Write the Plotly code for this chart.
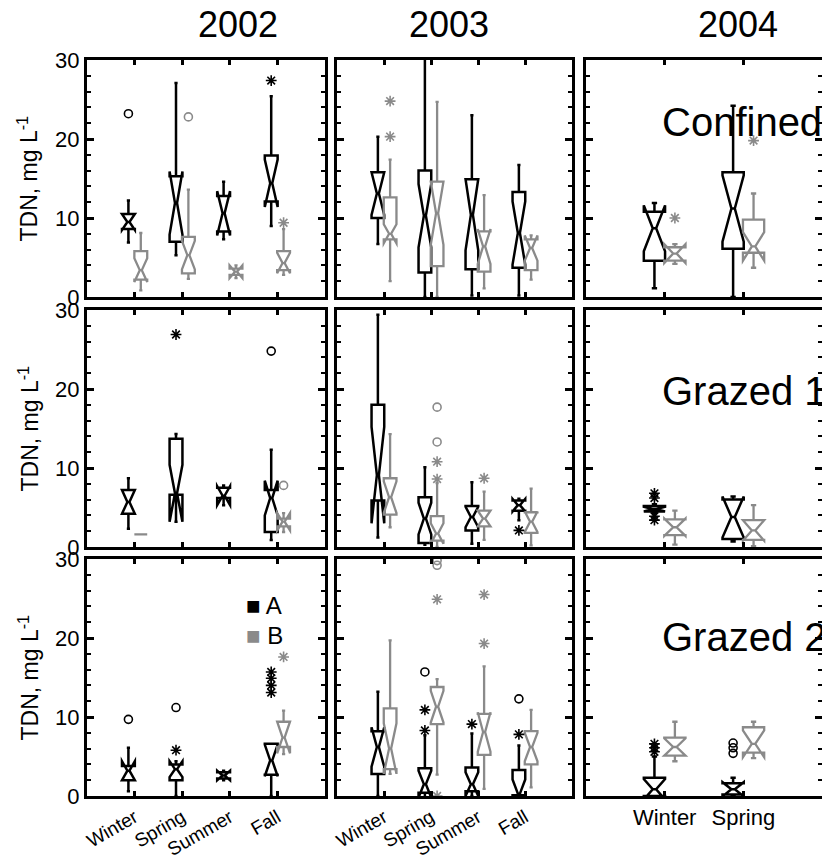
import plotly.graph_objects as go

# ---------------- data ----------------
# each box: (lower whisker, q1, median, q3, upper whisker, notch half-span); None = no box
SEASONS_0203 = ["Winter", "Spring", "Summer", "Fall"]
SEASONS_04 = ["Winter", "Spring"]
YEARS = ["2002", "2003", "2004"]
SITES = ["Confined", "Grazed 1", "Grazed 2"]
GROUPS = ["A", "B"]
Y_TICKS = [0, 10, 20, 30]

confined_2002_A = [(6.9, 8.6, 9.5, 10.5, 12.2, 1.0), (5.3, 7.0, 11.9, 15.3, 27.1, 4.0),
                   (7.3, 8.3, 10.6, 12.8, 14.6, 2.8), (9.0, 12.1, 14.4, 17.9, 25.4, 3.0)]
confined_2002_B = [(0.85, 2.2, 3.4, 5.8, 8.1, 1.5), (2.3, 3.0, 5.3, 7.6, 13.6, 1.8),
                   (2.5, 2.8, 3.2, 3.6, 3.9, 0.8), (2.8, 3.4, 4.3, 5.8, 8.6, 1.3)]
confined_2003_A = [(6.7, 10.0, 13.1, 15.8, 20.3, 2.7), (0.0, 3.1, 10.3, 16.0, 31.0, 4.0),
                   (0.2, 3.5, 10.4, 14.9, 23.0, 4.5), (0.2, 3.7, 8.1, 13.3, 16.7, 4.0)]
confined_2003_B = [(2.0, 7.3, 8.0, 12.6, 17.4, 1.2), (0.0, 3.9, 10.6, 14.6, 24.7, 4.0),
                   (1.1, 3.2, 6.4, 8.3, 12.9, 2.2), (2.2, 3.4, 6.2, 7.3, 7.7, 1.6)]
confined_2004_A = [(1.1, 4.6, 8.7, 10.8, 11.9, 2.9), (0.0, 6.1, 11.2, 15.8, 24.2, 4.2)]
confined_2004_B = [(4.2, 4.6, 5.5, 6.3, 6.7, 1.2), (3.7, 5.6, 6.4, 9.8, 13.1, 1.8)]

grazed1_2002_A = [(2.3, 4.2, 5.7, 7.2, 8.7, 1.5), (3.3, 6.6, 6.8, 13.7, 14.3, 3.6),
                  (5.9, 6.2, 6.5, 7.5, 7.8, 1.2), (0.9, 1.9, 6.2, 7.2, 12.3, 2.2)]
grazed1_2002_B = [(1.6, 1.6, 1.6, 1.6, 1.6, 0.0), None, None, (1.9, 2.6, 3.2, 3.6, 3.9, 1.1)]
grazed1_2003_A = [(1.2, 5.9, 9.1, 18.0, 29.4, 6.1), (0.3, 0.5, 3.6, 6.3, 10.1, 2.0),
                  (0.4, 2.1, 3.8, 5.2, 8.2, 1.3), (3.4, 4.6, 5.3, 5.9, 6.0, 0.8)]
grazed1_2003_B = [(2.5, 4.1, 6.3, 8.7, 14.3, 2.0), (0.0, 0.8, 1.7, 3.9, 8.1, 1.3),
                  (0.9, 2.6, 3.6, 4.6, 7.0, 1.0), (0.2, 1.8, 3.2, 4.4, 7.4, 1.3)]
grazed1_2004_A = [(4.3, 4.5, 4.8, 5.2, 5.4, 0.3), (0.7, 1.0, 3.8, 6.0, 6.3, 2.6)]
grazed1_2004_B = [(0.3, 1.5, 2.5, 3.5, 4.6, 1.1), (0.1, 0.9, 2.1, 3.4, 5.3, 1.3)]

grazed2_2002_A = [(0.6, 2.0, 3.2, 3.8, 6.1, 1.2), (0.0, 2.0, 3.4, 4.0, 4.0, 1.0),
                  (2.0, 2.2, 2.6, 3.0, 3.1, 0.6), (0.0, 2.7, 4.5, 6.6, 6.6, 2.0)]
grazed2_2002_B = [None, None, None, (5.3, 6.2, 7.4, 9.4, 10.8, 2.0)]
grazed2_2003_A = [(0.0, 2.8, 6.2, 8.2, 13.2, 2.5), (0.0, 0.4, 1.5, 3.5, 7.7, 1.7),
                  (0.0, 0.6, 1.5, 3.6, 7.9, 1.5), (0.0, 0.1, 0.3, 3.3, 6.4, 1.8)]
grazed2_2003_B = [(3.0, 3.4, 6.0, 11.1, 19.7, 3.2), (2.7, 9.1, 11.3, 13.8, 14.8, 2.0),
                  (0.9, 5.2, 8.1, 10.4, 16.4, 2.5), (1.1, 4.0, 6.2, 8.2, 10.9, 1.8)]
grazed2_2004_A = [(0.0, 0.0, 0.85, 2.3, 5.0, 1.3), (0.0, 0.2, 0.85, 1.6, 2.3, 0.9)]
grazed2_2004_B = [(4.4, 5.1, 6.2, 7.4, 9.4, 1.1), (4.8, 5.5, 6.6, 8.7, 9.4, 1.7)]

# outliers: (season, value, kind)  kind "o" = circle, "*" = asterisk
confined_2002_A_out = [("Winter", 23.2, "o"), ("Fall", 27.4, "*")]
confined_2002_B_out = [("Spring", 22.8, "o"), ("Fall", 9.4, "*")]
confined_2003_A_out = []
confined_2003_B_out = [("Winter", 24.8, "*"), ("Winter", 20.3, "*")]
confined_2004_A_out = []
confined_2004_B_out = [("Winter", 10.0, "*"), ("Spring", 19.8, "*")]
grazed1_2002_A_out = [("Spring", 26.9, "*"), ("Fall", 24.8, "o")]
grazed1_2002_B_out = [("Fall", 7.8, "o")]
grazed1_2003_A_out = [("Fall", 2.1, "*")]
grazed1_2003_B_out = [("Spring", 17.7, "o"), ("Spring", 13.3, "o"), ("Spring", 10.8, "*"),
                      ("Spring", 8.6, "*"), ("Summer", 8.7, "*")]
grazed1_2004_A_out = [("Winter", 6.8, "*"), ("Winter", 6.2, "*"), ("Winter", 3.9, "*"),
                      ("Winter", 3.4, "*")]
grazed1_2004_B_out = []
grazed2_2002_A_out = [("Winter", 9.7, "o"), ("Spring", 11.2, "o"), ("Spring", 5.8, "*"),
                      ("Fall", 15.7, "*"), ("Fall", 14.9, "*"), ("Fall", 14.0, "*"), ("Fall", 13.1, "*")]
grazed2_2002_B_out = [("Fall", 17.6, "*")]
grazed2_2003_A_out = [("Spring", 15.7, "o"), ("Spring", 10.9, "*"), ("Spring", 8.3, "*"),
                      ("Summer", 9.1, "*"), ("Fall", 12.3, "o"), ("Fall", 7.8, "*")]
grazed2_2003_B_out = [("Spring", 29.8, "o"), ("Spring", 29.2, "o"), ("Spring", 24.9, "*"),
                      ("Spring", 0.0, "*"), ("Summer", 25.5, "*"), ("Summer", 19.3, "*")]
grazed2_2004_A_out = [("Winter", 6.6, "*"), ("Winter", 6.1, "*"), ("Winter", 5.6, "*"),
                      ("Spring", 6.7, "o"), ("Spring", 6.1, "o"), ("Spring", 5.4, "o")]
grazed2_2004_B_out = []

PANELS = [
    [(confined_2002_A, confined_2002_B, confined_2002_A_out, confined_2002_B_out),
     (confined_2003_A, confined_2003_B, confined_2003_A_out, confined_2003_B_out),
     (confined_2004_A, confined_2004_B, confined_2004_A_out, confined_2004_B_out)],
    [(grazed1_2002_A, grazed1_2002_B, grazed1_2002_A_out, grazed1_2002_B_out),
     (grazed1_2003_A, grazed1_2003_B, grazed1_2003_A_out, grazed1_2003_B_out),
     (grazed1_2004_A, grazed1_2004_B, grazed1_2004_A_out, grazed1_2004_B_out)],
    [(grazed2_2002_A, grazed2_2002_B, grazed2_2002_A_out, grazed2_2002_B_out),
     (grazed2_2003_A, grazed2_2003_B, grazed2_2003_A_out, grazed2_2003_B_out),
     (grazed2_2004_A, grazed2_2004_B, grazed2_2004_A_out, grazed2_2004_B_out)],
]

# ---------------- styling / layout ----------------
W, H = 822, 861
FONT = "Liberation Sans, Arial, sans-serif"
COLORS = {"A": "#000000", "B": "#8a8a8a"}
OFFSET = {"A": -0.13, "B": 0.13}
BOX_W = 0.27
COL_PX = [(87, 325), (337, 572), (586, 822)]
ROW_PX = [(60, 297), (310, 547), (559, 796)]
TITLE_X = [238, 449, 738]
SITE_Y = [122, 391, 637]

fig = go.Figure()
layout = {}

for r in range(3):
    for c in range(3):
        k = r * 3 + c + 1
        xa = "x" if k == 1 else f"x{k}"
        ya = "y" if k == 1 else f"y{k}"
        seasons = SEASONS_04 if c == 2 else SEASONS_0203
        boxesA, boxesB, outA, outB = PANELS[r][c]
        for g, boxes, outs in (("A", boxesA, outA), ("B", boxesB, outB)):
            xs, lo, q1, md, q3, hi, ns = [], [], [], [], [], [], []
            for i, b in enumerate(boxes):
                if b is None:
                    continue
                xs.append(i + 1 + OFFSET[g])
                lo.append(b[0]); q1.append(b[1]); md.append(b[2])
                q3.append(b[3]); hi.append(b[4]); ns.append(b[5])
            if xs:
                fig.add_trace(go.Box(
                    x=xs, q1=q1, median=md, q3=q3, lowerfence=lo, upperfence=hi,
                    notchspan=ns, notched=True, notchwidth=0.42, width=BOX_W,
                    whiskerwidth=0.25, boxpoints=False,
                    line=dict(color=COLORS[g], width=2.5 if g == "A" else 2.3),
                    fillcolor="rgba(0,0,0,0)", xaxis=xa, yaxis=ya,
                    showlegend=False, hoverinfo="skip"))
            for kind in ("o", "*"):
                ox = [seasons.index(s) + 1 + OFFSET[g] for s, v, kd in outs if kd == kind]
                oy = [v for s, v, kd in outs if kd == kind]
                if ox:
                    fig.add_trace(go.Scatter(
                        x=ox, y=oy, mode="markers", xaxis=xa, yaxis=ya,
                        marker=dict(symbol="circle-open" if kind == "o" else "asterisk-open",
                                    size=8 if kind == "o" else 9,
                                    color=COLORS[g], line=dict(color=COLORS[g], width=1.6)),
                        showlegend=False, hoverinfo="skip"))

        x0, x1 = COL_PX[c]
        y0, y1 = ROW_PX[r]
        n = len(seasons)
        bottom = r == 2
        layout[f"xaxis{'' if k == 1 else k}"] = dict(
            domain=[x0 / W, x1 / W], anchor=ya, type="linear", range=[0, n + 1],
            tickvals=list(range(1, n + 1)), ticktext=seasons,
            showticklabels=bottom, tickangle=(0 if c == 2 else -30),
            ticklabelstandoff=(0 if c == 2 else 0), automargin=False,
            tickfont=dict(family=FONT, size=(22 if c == 2 else 19), color="black"),
            ticks="inside", ticklen=5, tickwidth=2.5, tickcolor="black",
            showline=True, linewidth=3, linecolor="black", mirror="ticks",
            showgrid=False, zeroline=False, fixedrange=True)
        layout[f"yaxis{'' if k == 1 else k}"] = dict(
            domain=[1 - y1 / H, 1 - y0 / H], anchor=xa, range=[0, 30],
            tickvals=Y_TICKS, showticklabels=(c == 0), automargin=False,
            tickfont=dict(family=FONT, size=22, color="black"),
            ticks="inside", ticklen=7, tickwidth=2.5, tickcolor="black",
            minor=dict(dtick=2, ticks="inside", ticklen=4, tickwidth=2, tickcolor="black", showgrid=False),
            showline=True, linewidth=3, linecolor="black", mirror="ticks",
            showgrid=False, zeroline=False, fixedrange=True)

annotations = []
for c, yr in enumerate(YEARS):
    annotations.append(dict(text=yr, x=TITLE_X[c] / W, y=1 - 25 / H, xref="paper", yref="paper",
                            showarrow=False, xanchor="center", yanchor="middle",
                            font=dict(family=FONT, size=36, color="black")))
for r, site in enumerate(SITES):
    annotations.append(dict(text=site, x=660 / W, y=1 - SITE_Y[r] / H, xref="paper", yref="paper",
                            showarrow=False, xanchor="left", yanchor="middle",
                            font=dict(family=FONT, size=40, color="black")))
    yc = (ROW_PX[r][0] + ROW_PX[r][1]) / 2
    annotations.append(dict(text="TDN, mg L<sup>-1</sup>", x=28 / W, y=1 - yc / H,
                            xref="paper", yref="paper", showarrow=False, textangle=-90,
                            xanchor="center", yanchor="middle",
                            font=dict(family=FONT, size=23, color="black")))
for i, g in enumerate(GROUPS):
    annotations.append(dict(text=f"<span style='color:{COLORS[g]}'>■</span> {g}",
                            x=244 / W, y=1 - (605 + 30 * i) / H, xref="paper", yref="paper",
                            showarrow=False, xanchor="left", yanchor="middle",
                            font=dict(family=FONT, size=24, color="black")))

fig.update_layout(width=W, height=H, margin=dict(l=0, r=0, t=0, b=0),
                  paper_bgcolor="white", plot_bgcolor="white", boxmode="overlay",
                  showlegend=False, annotations=annotations, **layout)

fig.write_html("out.html")
